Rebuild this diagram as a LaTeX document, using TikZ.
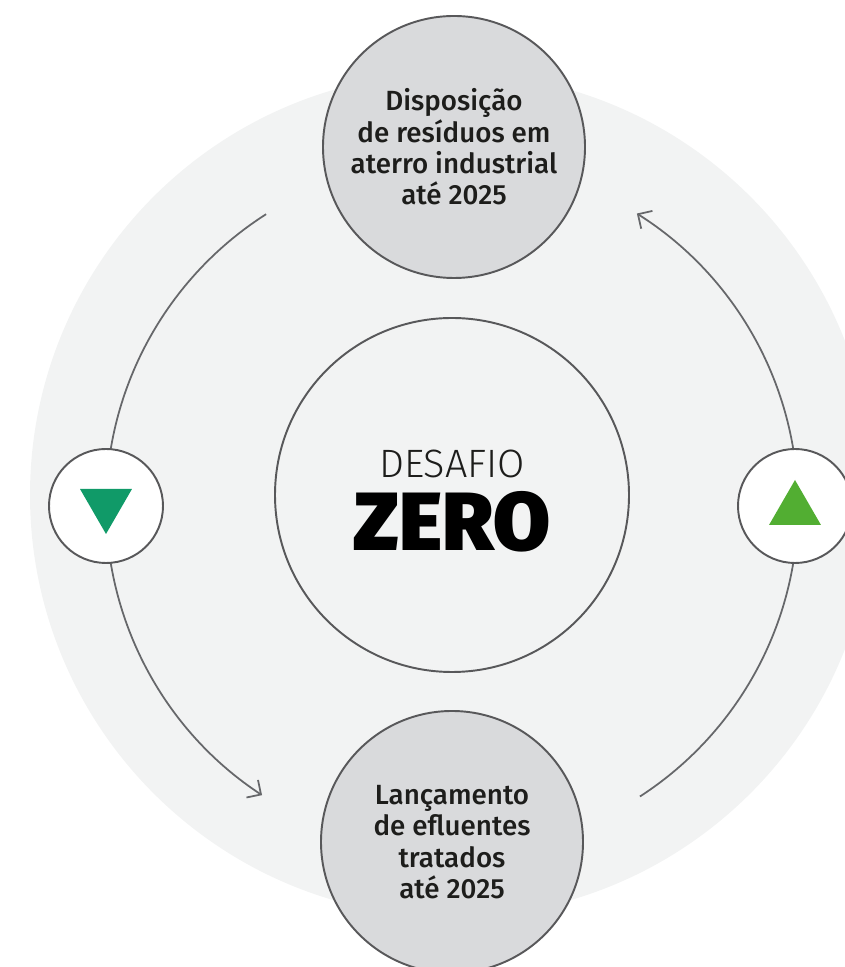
\documentclass[tikz,border=0pt]{standalone}
\usepackage{fontspec}
\setmainfont{Fira Sans}
\newfontfamily\labelfont{Fira Sans Medium}
\newfontfamily\lightfont{Fira Sans Light}
\newfontfamily\heavyfont{Fira Sans Black}
\usepackage{tikz}
\usetikzlibrary{arrows.meta,shapes.geometric}
\definecolor{bgcol}{HTML}{F2F3F3}
\definecolor{goalcol}{HTML}{D9DADC}
\definecolor{rimcol}{HTML}{58585A}
\definecolor{arccol}{HTML}{66676A}
\definecolor{downcol}{HTML}{109A68}
\definecolor{upcol}{HTML}{52AE32}
\definecolor{inkcol}{HTML}{1D1D1B}
\tikzset{
  goal/.style={circle, draw=rimcol, line width=1.1pt, fill=goalcol, minimum size=5.24cm,
    align=center, text=inkcol, font=\labelfont\fontsize{15.8}{17.8}\selectfont},
  badge/.style={circle, draw=rimcol, line width=1.1pt, fill=white, minimum size=2.28cm},
  tri/.style={regular polygon, regular polygon sides=3, minimum size=1.2cm, inner sep=0pt},
  orbit/.style={arccol, line width=1pt, -{Straight Barb[length=2.1mm,width=4.2mm]}}
}

\begin{document}
\begin{tikzpicture}
\useasboundingbox (0,0) rectangle (16.88,19.34);
\fill[bgcol] (9.04,9.44) circle (8.44);
\coordinate (hub) at (9.04,9.22);
% the two cycle arcs
\draw[orbit] (hub) ++(122.5:6.92) arc[start angle=122.5, end angle=236.7, radius=6.92];
\draw[orbit] (hub) ++(-57.1:6.92) arc[start angle=-57.1, end angle=57.7, radius=6.92];
\draw (9.04,9.44) node[circle, draw=rimcol, line width=1.1pt, fill=bgcol, minimum size=7.08cm](core) {};
\draw ([yshift=0.34cm]core.center) node[anchor=base, text=inkcol, font=\lightfont\fontsize{22.5}{26}\selectfont](title) {DESAFIO};
\draw ([yshift=-1.12cm]core.center) node[anchor=base, text=black, font=\heavyfont\fontsize{47}{52}\selectfont](zero) {ZERO};
\draw (9.08,16.40) node[goal](landfill) {Disposição\\de resíduos em\\aterro industrial\\até 2025};
\draw (9.04,2.50) node[goal](effluent) {Lançamento\\de efluentes\\tratados\\até 2025};
\draw (2.12,9.22) node[badge](down) {};
\draw (15.90,9.22) node[badge](up) {};
\draw ([yshift=0.04cm]down.center) node[tri, fill=downcol, shape border rotate=180](downmark) {};
\draw ([yshift=-0.08cm]up.center) node[tri, fill=upcol](upmark) {};
\end{tikzpicture}
\end{document}
